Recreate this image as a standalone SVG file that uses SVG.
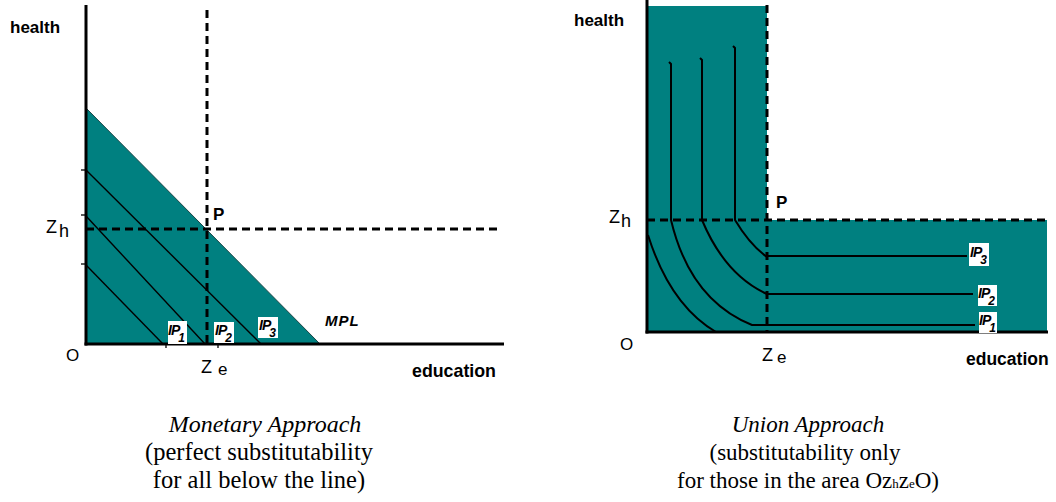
<svg xmlns="http://www.w3.org/2000/svg" width="1056" height="502" viewBox="0 0 1056 502">
<style>
.ax{stroke:#000;stroke-width:3;fill:none}
.dash{stroke:#000;stroke-width:3;stroke-dasharray:8 5;fill:none}
.ip{stroke:#000;stroke-width:1.4;fill:none}
.ipr{stroke:#000;stroke-width:2;fill:none}
.fill{fill:#008080}
.lbl{font-family:"Liberation Sans",Arial,sans-serif;font-size:17px;fill:#000}
.bold{font-weight:bold}
.ipt{font-family:"Liberation Sans",Arial,sans-serif;font-style:italic;font-weight:bold;font-size:14px;fill:#000;letter-spacing:-1px}
.box{fill:#fff}
.cap{font-family:"Liberation Serif","Times New Roman",serif;font-size:23px;fill:#000;text-anchor:middle}
</style>
<rect width="1056" height="502" fill="#fff"/>

<g id="left-chart">
  <polygon class="fill" points="86,108 320,344 86,344" stroke="#1b4545" stroke-width="1"/>
  <g id="left-ip-lines">
    <line class="ip" x1="86" y1="265" x2="163" y2="344"/>
    <line class="ip" x1="86" y1="216" x2="205" y2="344"/>
    <line class="ip" x1="86" y1="170" x2="261" y2="344"/>
  </g>
  <g id="left-ticks" stroke="#000" stroke-width="1.3">
    <line x1="81" y1="170" x2="86" y2="170"/>
    <line x1="81" y1="215" x2="86" y2="215"/>
    <line x1="81" y1="264" x2="86" y2="264"/>
    <line x1="166" y1="344" x2="166" y2="348"/>
    <line x1="218" y1="344" x2="218" y2="348"/>
  </g>
  <g id="left-dashes">
    <line class="dash" x1="207" y1="10" x2="207" y2="344"/>
    <line class="dash" x1="86" y1="229" x2="497" y2="229"/>
  </g>
  <g id="left-axes">
    <line class="ax" x1="86" y1="5" x2="86" y2="345.5"/>
    <line class="ax" x1="84.5" y1="344" x2="504" y2="344"/>
  </g>
  <g id="left-labels">
    <text class="lbl bold" x="10" y="33">health</text>
    <text class="lbl" x="46" y="233" style="font-size:18px">Z</text>
    <text class="lbl" x="59" y="237" style="font-size:18px">h</text>
    <text class="lbl bold" x="213" y="220">P</text>
    <text class="lbl" x="66" y="361">O</text>
    <text class="lbl" x="201" y="373" style="font-size:18px">Z</text>
    <text class="lbl" x="218" y="375">e</text>
    <text class="lbl bold" x="412" y="377" style="font-size:17.8px">education</text>
    <text class="ipt" x="325" y="326" style="font-size:15px;letter-spacing:1px">MPL</text>
  </g>
  <g id="left-ip1">
    <rect class="box" x="168" y="321" width="19" height="23"/>
    <text class="ipt" x="168" y="335">IP<tspan dx="-1" dy="7" font-size="12">1</tspan></text>
  </g>
  <g id="left-ip2">
    <rect class="box" x="214" y="322" width="20" height="21"/>
    <text class="ipt" x="215" y="335">IP<tspan dx="-1" dy="7" font-size="12">2</tspan></text>
  </g>
  <g id="left-ip3">
    <rect class="box" x="258" y="317" width="20" height="21"/>
    <text class="ipt" x="259" y="330">IP<tspan dx="-1" dy="7" font-size="12">3</tspan></text>
  </g>
</g>

<g id="right-chart">
  <path class="fill" d="M647,6 H767 V220 H1047 V332 H647 Z"/>
  <g id="right-ip-curves">
    <path class="ipr" d="M648,235 Q670,305 716,332"/>
    <path class="ipr" d="M669,62 L671,64 V220 Q690,300 752,325 L767,325"/>
    <path class="ipr" d="M700,58 L702,60 V220 Q725,275 767,294"/>
    <path class="ipr" d="M733,46 L735,48 V220 Q750,245 767,257"/>
    <line class="ipr" x1="767" y1="325" x2="975" y2="325"/>
    <line class="ipr" x1="767" y1="294" x2="973" y2="294"/>
    <line class="ipr" x1="767" y1="256" x2="967" y2="256"/>
  </g>
  <g id="right-dashes">
    <line class="dash" x1="767" y1="5" x2="767" y2="332"/>
    <line class="dash" x1="647" y1="220" x2="1049" y2="220"/>
  </g>
  <g id="right-axes">
    <line class="ax" x1="647" y1="0" x2="647" y2="333.5"/>
    <line class="ax" x1="645.5" y1="332" x2="1048" y2="332"/>
  </g>
  <g id="right-labels">
    <text class="lbl bold" x="574" y="26">health</text>
    <text class="lbl" x="609" y="223" style="font-size:18px">Z</text>
    <text class="lbl" x="621" y="227" style="font-size:18px">h</text>
    <text class="lbl bold" x="776" y="208">P</text>
    <text class="lbl" x="620" y="350">O</text>
    <text class="lbl" x="762" y="361" style="font-size:18px">Z</text>
    <text class="lbl" x="777" y="363">e</text>
    <text class="lbl bold" x="966" y="365" style="font-size:17.5px">education</text>
  </g>
  <g id="right-ip3">
    <rect class="box" x="969" y="243" width="20" height="23"/>
    <text class="ipt" x="970" y="257">IP<tspan dx="-1" dy="7" font-size="12">3</tspan></text>
  </g>
  <g id="right-ip2">
    <rect class="box" x="978" y="285" width="19" height="21"/>
    <text class="ipt" x="978" y="298">IP<tspan dx="-1" dy="7" font-size="12">2</tspan></text>
  </g>
  <g id="right-ip1">
    <rect class="box" x="979" y="312" width="18" height="21"/>
    <text class="ipt" x="979" y="325">IP<tspan dx="-1" dy="7" font-size="12">1</tspan></text>
  </g>
</g>

<g id="captions">
  <text class="cap" x="265" y="432" style="font-style:italic;font-size:24px">Monetary Approach</text>
  <text class="cap" x="259" y="460" style="font-size:24.5px">(perfect substitutability</text>
  <text class="cap" x="259" y="488" style="font-size:24.5px">for all below the line)</text>
  <text class="cap" x="808" y="432" style="font-style:italic">Union Approach</text>
  <text class="cap" x="805" y="460">(substitutability only</text>
  <text class="cap" x="808" y="488">for those in the area Oz<tspan font-size="13">h</tspan>z<tspan font-size="13">e</tspan>O)</text>
</g>
</svg>
